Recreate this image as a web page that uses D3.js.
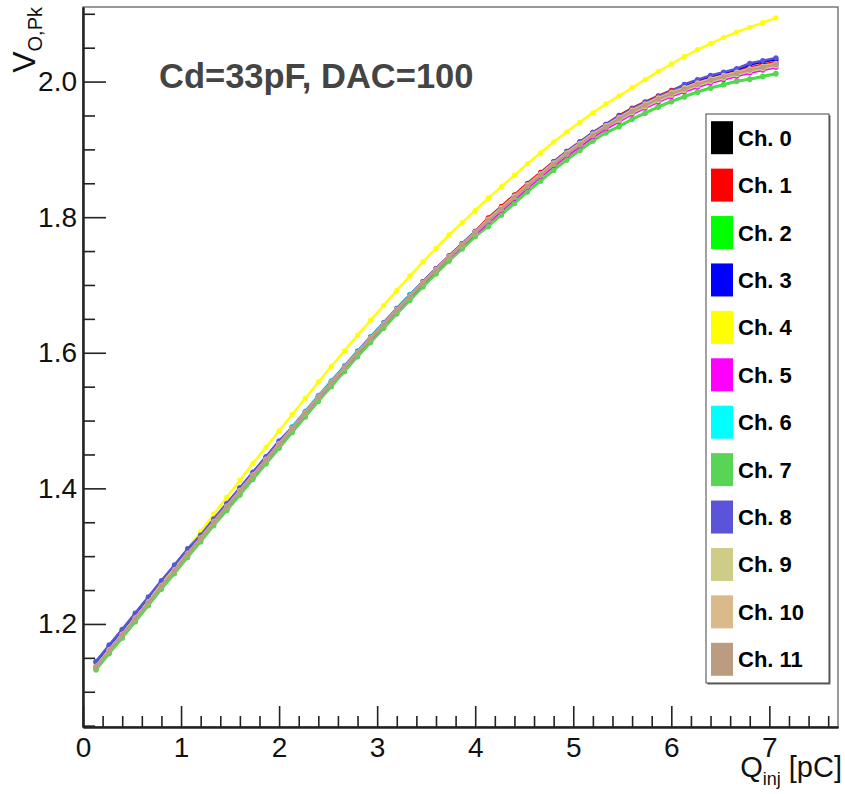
<!DOCTYPE html>
<html>
<head>
<meta charset="utf-8">
<script src="https://cdn.jsdelivr.net/npm/d3@7"></script>
<style>
  html, body { margin: 0; padding: 0; background: #fff; }
  svg { display: block; }
  text { font-family: "Liberation Sans", Arial, Helvetica, sans-serif; }
</style>
</head>
<body>
<svg id="chart" width="845" height="794"></svg>
<script>
// ---------------- data ----------------
const qInj = [0.133,0.267,0.4,0.533,0.667,0.8,0.933,1.067,1.2,1.333,1.467,1.6,1.733,1.867,2.0,2.133,2.267,2.4,2.533,2.667,2.8,2.933,3.067,3.2,3.333,3.467,3.6,3.733,3.867,4.0,4.133,4.267,4.4,4.533,4.667,4.8,4.933,5.067,5.2,5.333,5.467,5.6,5.733,5.867,6.0,6.133,6.267,6.4,6.533,6.667,6.8,6.933,7.067];

const ch0 = [1.137,1.161,1.184,1.208,1.232,1.256,1.279,1.303,1.326,1.350,1.373,1.396,1.419,1.442,1.465,1.488,1.511,1.534,1.556,1.578,1.600,1.621,1.642,1.663,1.683,1.703,1.722,1.741,1.759,1.777,1.796,1.813,1.830,1.847,1.863,1.879,1.894,1.908,1.922,1.934,1.946,1.957,1.966,1.975,1.983,1.990,1.997,2.003,2.008,2.013,2.018,2.022,2.026];
const ch1 = [1.137,1.161,1.184,1.208,1.232,1.256,1.279,1.303,1.326,1.350,1.373,1.396,1.419,1.442,1.465,1.488,1.511,1.534,1.556,1.578,1.602,1.623,1.644,1.665,1.685,1.705,1.724,1.743,1.761,1.779,1.799,1.816,1.833,1.850,1.866,1.882,1.897,1.911,1.925,1.937,1.950,1.961,1.970,1.979,1.987,1.994,2.001,2.007,2.012,2.017,2.021,2.025,2.029];
const ch2 = [1.133,1.157,1.180,1.204,1.228,1.252,1.275,1.299,1.322,1.346,1.368,1.391,1.414,1.437,1.460,1.483,1.506,1.529,1.551,1.573,1.595,1.616,1.637,1.658,1.678,1.698,1.717,1.736,1.754,1.772,1.787,1.804,1.821,1.838,1.854,1.870,1.885,1.899,1.913,1.925,1.934,1.945,1.954,1.963,1.971,1.978,1.985,1.991,1.996,2.001,2.004,2.008,2.012];
const ch3 = [1.144,1.168,1.191,1.215,1.239,1.263,1.286,1.310,1.330,1.354,1.377,1.400,1.423,1.446,1.469,1.489,1.512,1.535,1.557,1.579,1.601,1.622,1.643,1.664,1.684,1.704,1.723,1.742,1.760,1.778,1.796,1.813,1.830,1.847,1.863,1.881,1.896,1.910,1.924,1.936,1.948,1.959,1.968,1.977,1.985,1.995,2.002,2.008,2.013,2.018,2.025,2.029,2.033];
const ch4 = [1.137,1.161,1.184,1.208,1.234,1.260,1.285,1.311,1.336,1.362,1.387,1.412,1.437,1.461,1.485,1.509,1.533,1.557,1.580,1.603,1.626,1.648,1.670,1.692,1.713,1.734,1.754,1.774,1.792,1.810,1.828,1.845,1.862,1.879,1.895,1.911,1.926,1.940,1.954,1.967,1.979,1.991,2.003,2.015,2.026,2.037,2.047,2.056,2.065,2.073,2.080,2.087,2.094];
const ch5 = [1.135,1.159,1.182,1.206,1.230,1.254,1.277,1.301,1.324,1.348,1.370,1.393,1.416,1.439,1.462,1.485,1.508,1.531,1.553,1.575,1.597,1.618,1.639,1.660,1.680,1.700,1.719,1.738,1.756,1.774,1.792,1.809,1.826,1.843,1.859,1.875,1.890,1.904,1.918,1.930,1.941,1.952,1.961,1.970,1.978,1.985,1.992,1.998,2.003,2.008,2.013,2.017,2.021];
const ch6 = [1.138,1.162,1.185,1.209,1.233,1.257,1.280,1.304,1.327,1.351,1.376,1.399,1.422,1.445,1.468,1.491,1.514,1.537,1.559,1.581,1.603,1.624,1.645,1.666,1.686,1.704,1.723,1.742,1.760,1.778,1.796,1.813,1.830,1.847,1.863,1.879,1.894,1.908,1.922,1.934,1.945,1.956,1.965,1.974,1.982,1.989,1.996,2.002,2.007,2.012,2.017,2.021,2.025];
const ch7 = [1.132,1.156,1.179,1.203,1.227,1.251,1.274,1.298,1.321,1.345,1.367,1.390,1.413,1.436,1.459,1.482,1.505,1.528,1.550,1.572,1.594,1.615,1.636,1.657,1.677,1.697,1.716,1.735,1.753,1.771,1.786,1.803,1.820,1.837,1.853,1.869,1.884,1.898,1.912,1.924,1.933,1.944,1.953,1.962,1.970,1.977,1.984,1.990,1.995,2.000,2.003,2.007,2.011];
const ch8 = [1.145,1.169,1.192,1.216,1.240,1.264,1.287,1.311,1.331,1.355,1.378,1.401,1.424,1.447,1.470,1.490,1.513,1.536,1.558,1.580,1.602,1.623,1.644,1.665,1.685,1.705,1.724,1.743,1.761,1.779,1.797,1.814,1.831,1.848,1.864,1.882,1.897,1.911,1.925,1.937,1.949,1.960,1.969,1.978,1.986,1.996,2.003,2.009,2.014,2.019,2.027,2.031,2.035];
const ch9 = [1.137,1.161,1.184,1.208,1.232,1.256,1.279,1.303,1.326,1.350,1.373,1.396,1.419,1.442,1.465,1.488,1.511,1.534,1.556,1.578,1.600,1.621,1.642,1.663,1.683,1.703,1.722,1.741,1.759,1.777,1.795,1.812,1.829,1.846,1.862,1.878,1.893,1.907,1.921,1.933,1.943,1.954,1.963,1.972,1.980,1.987,1.994,2.000,2.005,2.010,2.015,2.019,2.023];
const ch10 = [1.138,1.162,1.185,1.209,1.233,1.257,1.280,1.304,1.327,1.351,1.374,1.397,1.420,1.443,1.466,1.489,1.512,1.535,1.557,1.579,1.601,1.622,1.643,1.664,1.684,1.704,1.723,1.742,1.760,1.778,1.797,1.814,1.831,1.848,1.864,1.880,1.895,1.909,1.923,1.935,1.947,1.958,1.967,1.976,1.984,1.991,1.998,2.004,2.009,2.014,2.019,2.023,2.027];
const ch11 = [1.137,1.161,1.184,1.208,1.232,1.256,1.279,1.303,1.326,1.350,1.373,1.396,1.419,1.442,1.465,1.488,1.511,1.534,1.556,1.578,1.600,1.621,1.642,1.663,1.683,1.703,1.722,1.741,1.759,1.777,1.795,1.812,1.829,1.846,1.862,1.878,1.893,1.907,1.921,1.933,1.945,1.956,1.965,1.974,1.982,1.989,1.996,2.002,2.007,2.012,2.017,2.021,2.025];

const channelNames = ["Ch. 0","Ch. 1","Ch. 2","Ch. 3","Ch. 4","Ch. 5","Ch. 6","Ch. 7","Ch. 8","Ch. 9","Ch. 10","Ch. 11"];
const channelValues = [ch0,ch1,ch2,ch3,ch4,ch5,ch6,ch7,ch8,ch9,ch10,ch11];
const channelColors = ["#000000","#ff0000","#00ff00","#0000ff","#ffff00","#ff00ff","#00ffff","#59d454","#5954d8","#cfcc88","#dcb98a","#bb9c80"];

const xMajorTicks = [0,1,2,3,4,5,6,7];
const yMajorTicks = [1.2,1.4,1.6,1.8,2.0];
const xDomain = [0, 7.7];
const yDomain = [1.048, 2.110];

const titleText = "Cd=33pF, DAC=100";

// ---------------- layout ----------------
const svg = d3.select("#chart");
const L = 83, R = 838, T = 7, B = 727;

const x = d3.scaleLinear().domain(xDomain).range([L, R]);
const y = d3.scaleLinear().domain(yDomain).range([B, T]);

// frame
svg.append("rect").attr("x", L).attr("y", T).attr("width", R - L).attr("height", B - T)
  .attr("fill", "#fff").attr("stroke", "#555").attr("stroke-width", 1.2);

// minor ticks
const xMinor = d3.range(0, 7.7001, 0.2).filter(v => Math.abs(v - Math.round(v)) > 1e-6);
const yMinor = d3.range(1.05, 2.1001, 0.05).filter(v => Math.abs(v * 5 - Math.round(v * 5)) > 1e-6);

const xMinorAxis = d3.axisBottom(x).tickValues(xMinor).tickSizeInner(-11).tickSizeOuter(0).tickFormat("");
const xMajorAxis = d3.axisBottom(x).tickValues(xMajorTicks).tickSizeInner(-21).tickSizeOuter(0).tickPadding(30).tickFormat(d3.format("d"));
const yMinorAxis = d3.axisLeft(y).tickValues(yMinor).tickSizeInner(-12).tickSizeOuter(0).tickFormat("");
const yMajorAxis = d3.axisLeft(y).tickValues(yMajorTicks).tickSizeInner(-23).tickSizeOuter(0).tickPadding(6).tickFormat(d3.format(".1f"));

function styleAxis(g) {
  g.selectAll(".domain").attr("stroke", "#222").attr("stroke-width", 2);
  g.selectAll(".tick line").attr("stroke", "#222").attr("stroke-width", 1.6);
  g.selectAll(".tick text").attr("fill", "#111").style("font-size", "28px")
   .style("font-family", '"Liberation Sans", Arial, Helvetica, sans-serif');
}

svg.append("g").attr("transform", `translate(0,${B})`).call(xMinorAxis).call(styleAxis);
svg.append("g").attr("transform", `translate(0,${B})`).call(xMajorAxis).call(styleAxis)
  .selectAll(".tick text").attr("dy", null).attr("y", 30);
svg.append("g").attr("transform", `translate(${L},0)`).call(yMinorAxis).call(styleAxis);
svg.append("g").attr("transform", `translate(${L},0)`).call(yMajorAxis).call(styleAxis);

// curves
const line = d3.line().x((d, i) => x(qInj[i])).y(d => y(d));
const plot = svg.append("g");
channelValues.forEach((vals, ci) => {
  const g = plot.append("g");
  g.append("path").datum(vals).attr("d", line)
    .attr("fill", "none").attr("stroke", channelColors[ci]).attr("stroke-width", 2.4);
  g.selectAll("circle").data(vals).enter().append("circle")
    .attr("cx", (d, i) => x(qInj[i])).attr("cy", d => y(d)).attr("r", 2.6)
    .attr("fill", channelColors[ci]);
});

// title annotation
svg.append("text").attr("x", 159).attr("y", 88)
  .attr("fill", "#444").style("font-size", "34.5px").style("font-weight", "bold")
  .text(titleText);

// axis titles
const yt = svg.append("text").attr("transform", "translate(35,7) rotate(-90)")
  .attr("text-anchor", "end").attr("fill", "#111");
yt.append("tspan").style("font-size", "32px").text("V");
yt.append("tspan").style("font-size", "20px").attr("dy", 7).text("O,Pk");

const xt = svg.append("text").attr("x", 842).attr("y", 777)
  .attr("text-anchor", "end").attr("fill", "#111");
xt.append("tspan").style("font-size", "29px").text("Q");
xt.append("tspan").style("font-size", "18px").attr("dy", 8).text("inj");
xt.append("tspan").style("font-size", "29px").attr("dy", -8).text(" [pC]");

// legend
const lgX = 706, lgY = 114, lgW = 123, lgH = 569;
const rowH = lgH / channelNames.length;
svg.append("rect").attr("x", lgX + 1.5).attr("y", lgY + 1.5).attr("width", lgW).attr("height", lgH)
  .attr("fill", "#666");
svg.append("rect").attr("x", lgX).attr("y", lgY).attr("width", lgW).attr("height", lgH)
  .attr("fill", "#fff").attr("stroke", "#444").attr("stroke-width", 1);
const lg = svg.append("g");
channelNames.forEach((name, i) => {
  const cy = lgY + rowH * (i + 0.5);
  lg.append("rect").attr("x", lgX + 5).attr("y", cy - 16.5).attr("width", 22).attr("height", 33)
    .attr("fill", channelColors[i]);
  lg.append("text").attr("x", lgX + 32).attr("y", cy + 8)
    .attr("fill", "#000").style("font-size", "22px").style("font-weight", "bold").text(name);
});
</script>
</body>
</html>
